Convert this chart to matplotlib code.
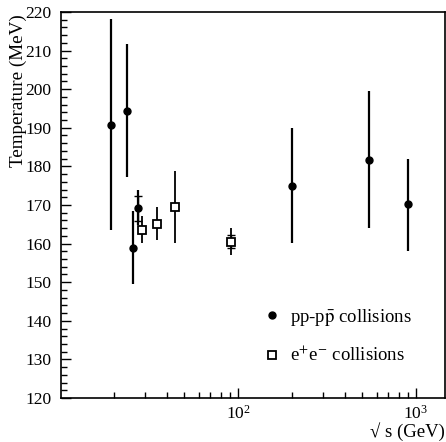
import numpy as np
import matplotlib
matplotlib.use("Agg")
import matplotlib.pyplot as plt
from matplotlib.ticker import MultipleLocator, LogLocator, NullFormatter
from matplotlib.lines import Line2D

# ---------------------------
# Data
# ---------------------------

# pp / p-pbar collisions
pp_sqrts = [19.4, 23.7, 25.8, 27.3, 200, 546, 900]
pp_temp = [190.7, 194.4, 158.9, 169.1, 174.9, 181.7, 170.2]
pp_err_lo = [27.2, 17.2, 9.4, 4.3, 14.8, 17.7, 12.0]
pp_err_hi = [27.5, 17.2, 9.5, 4.7, 15.0, 17.7, 11.6]

# e+e- collisions
ee_sqrts = [29, 35, 44, 91]
ee_temp = [163.5, 165.2, 169.6, 160.5]
ee_err_lo = [3.4, 4.3, 9.5, 3.5]
ee_err_hi = [3.6, 4.4, 9.3, 3.5]

# inner (statistical) error bars with caps
stat_sqrts = [27.3, 91]
stat_temp = [169.1, 160.5]
stat_err = [3.2, 1.7]

plt.rcParams['font.family'] = ['Liberation Serif', 'DejaVu Serif']
plt.rcParams['mathtext.fontset'] = 'stix'

fig = plt.figure(figsize=(4.46, 4.42), dpi=100)
ax = fig.add_axes([0.1368, 0.0995, 0.861, 0.8735])

# outer error bars
ax.errorbar(pp_sqrts, pp_temp, yerr=[pp_err_lo, pp_err_hi], fmt='o', color='black',
            markersize=5, elinewidth=1.6, capsize=0)
ax.errorbar(ee_sqrts, ee_temp, yerr=[ee_err_lo, ee_err_hi], fmt='none', ecolor='black',
            elinewidth=1.3, capsize=0)
ax.errorbar(stat_sqrts, stat_temp, yerr=stat_err, fmt='none', ecolor='black',
            elinewidth=1.0, capsize=3, capthick=1.0)
ax.plot(ee_sqrts, ee_temp, 's', markersize=5.5, markerfacecolor='white',
        markeredgecolor='black', markeredgewidth=1.3, linestyle='none', zorder=5)

ax.set_xscale('log')
ax.set_xlim(10.13, 1455)
ax.set_ylim(120, 220)

ax.yaxis.set_major_locator(MultipleLocator(10))
ax.yaxis.set_minor_locator(MultipleLocator(2))
ax.xaxis.set_major_locator(LogLocator(base=10))
ax.xaxis.set_minor_locator(LogLocator(base=10, subs=np.arange(2, 10)))
ax.xaxis.set_minor_formatter(NullFormatter())

ax.tick_params(which='major', direction='in', length=7, width=1.0, labelsize=12.5,
               top=False, right=False)
ax.tick_params(axis='y', which='major', pad=7)
ax.tick_params(axis='x', which='major', pad=5)
ax.tick_params(which='minor', direction='in', length=4, width=1.0,
               top=False, right=False)
for sp in ax.spines.values():
    sp.set_linewidth(1.2)

ax.set_ylabel("Temperature (MeV)", fontsize=13.8)
ax.yaxis.set_label_coords(-0.089, 0.797)
ax.set_xlabel("√ s (GeV)", fontsize=13.5, loc='right')
ax.xaxis.set_label_coords(1.0, -0.062)

handles = [
    Line2D([], [], marker='o', color='black', linestyle='none', markersize=5),
    Line2D([], [], marker='s', markerfacecolor='white', markeredgecolor='black',
           markeredgewidth=1.3, linestyle='none', markersize=5.5),
]
labels = [r"pp-p$\bar{\rm p}$ collisions", r"e$^{+}$e$^{-}$ collisions"]
ax.legend(handles, labels, loc='lower left', bbox_to_anchor=(0.482, 0.041),
          frameon=False, fontsize=13.5, labelspacing=0.95, handletextpad=0.45,
          handlelength=1.0)

fig.savefig("out.png", dpi=100)
